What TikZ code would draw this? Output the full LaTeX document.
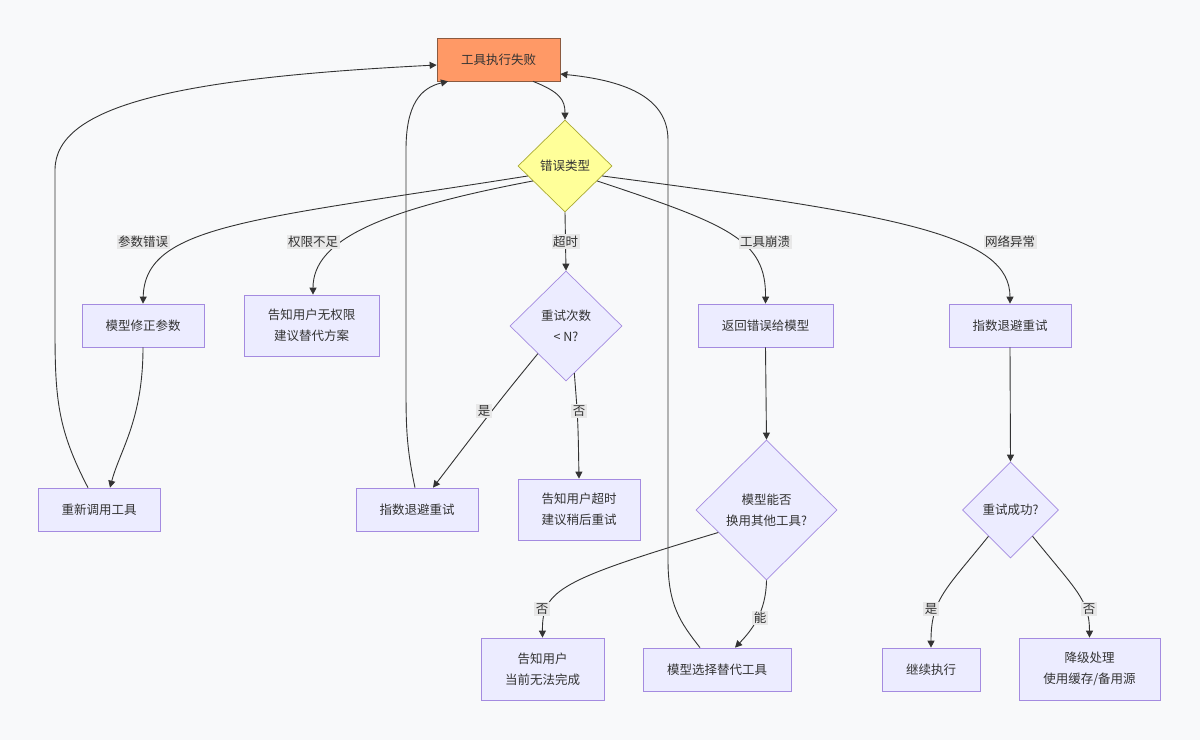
\documentclass[tikz,border=0pt]{standalone}
\usepackage{fontspec}
\setmainfont{Noto Sans CJK SC}
\usetikzlibrary{shapes.geometric,arrows.meta}
\definecolor{nodefill}{HTML}{ECECFF}
\definecolor{nodeline}{HTML}{A48BE0}
\definecolor{inkgray}{HTML}{333333}
\definecolor{bgcol}{HTML}{F8F9FA}
\definecolor{failfill}{HTML}{FF9966}
\definecolor{faildraw}{HTML}{8A5A40}
\definecolor{typefill}{HTML}{FFFF99}
\definecolor{typedraw}{HTML}{AAAA33}
\definecolor{labelfill}{HTML}{E8E8E8}

\begin{document}
\begin{tikzpicture}[x=1pt,y=-1pt,
    font=\fontsize{12.5}{21}\selectfont, text=inkgray,
    box/.style={rectangle, draw=nodeline, fill=nodefill, line width=0.7pt, minimum height=43pt, align=center, inner sep=0pt},
    decision/.style={diamond, draw=nodeline, fill=nodefill, line width=0.7pt, align=center, inner sep=1pt},
    elabel/.style={fill=labelfill, inner sep=1.5pt},
    arr/.style={draw=inkgray, line width=0.9pt, -{Triangle[length=7pt,width=7pt]}}]
      \fill[bgcol] (0,0) rectangle (1200,740);

      \node[box, fill=failfill, draw=faildraw, minimum width=123pt] (fail) at (498.5,59.5) {工具执行失败};
      \node[decision, fill=typefill, draw=typedraw, minimum width=94pt, minimum height=92pt] (type) at (565,166) {错误类型};
      \node[box, minimum width=122pt] (param) at (143,325.5) {模型修正参数};
      \node[box, minimum width=135pt, minimum height=61pt] (perm) at (311.5,325.5) {告知用户无权限\\建议替代方案};
      \node[decision, minimum width=112pt, minimum height=110pt] (retry) at (566,326) {重试次数\\< N?};
      \node[box, minimum width=135pt] (crash) at (765.5,325.5) {返回错误给模型};
      \node[box, minimum width=122pt] (netretry) at (1010,325.5) {指数退避重试};
      \node[box, minimum width=122pt] (recall) at (99,509.5) {重新调用工具};
      \node[box, minimum width=122pt] (backoff) at (417,509.5) {指数退避重试};
      \node[box, minimum width=122pt, minimum height=61pt] (tmsg) at (579,509.5) {告知用户超时\\建议稍后重试};
      \node[decision, minimum width=141pt, minimum height=140pt] (swap) at (766.5,510) {模型能否\\换用其他工具?};
      \node[decision, minimum width=96pt, minimum height=96pt] (ok) at (1010.5,510) {重试成功?};
      \node[box, minimum width=123pt, minimum height=62pt] (nouser) at (542.5,669) {告知用户\\当前无法完成};
      \node[box, minimum width=148pt] (choose) at (717,669.5) {模型选择替代工具};
      \node[box, minimum width=98pt] (cont) at (931,669.5) {继续执行};
      \node[box, minimum width=141pt, minimum height=62pt] (degrade) at (1089.5,669) {降级处理\\使用缓存/备用源};

      \draw[arr] ([xshift=34.5pt]fail.south) .. controls (560,92) and (565,100) .. (type.north);
      \draw[arr] (type.195) .. controls (250,220) and (145,225) .. (param.north);
      \draw[arr] (type.205) .. controls (380,210) and (313,240) .. ([xshift=1.5pt]perm.north);
      \draw[arr] (type.south) -- (retry.north) node[elabel, midway] (ltimeout) {超时};
      \draw[arr] (type.-25) .. controls (730,225) and (766,240) .. (crash.north);
      \draw[arr] (type.-15) .. controls (900,215) and (1010,235) .. (netretry.north);
      \draw[arr] (param.south) .. controls (143,420) and (120,450) .. ([xshift=11pt]recall.north);
      \draw[arr] ([xshift=-11pt]recall.north) .. controls (58,430) and (55,400) .. (55,330) -- (55,170)
          .. controls (55,105) and (180,78) .. ([yshift=-5.5pt]fail.west);
      \draw[arr] (retry.south west) .. controls (500,400) .. ([xshift=16pt]backoff.north);
      \draw[arr] (retry.-80) .. controls (578,420) .. (tmsg.north);
      \draw[arr] ([xshift=-2pt]backoff.north) .. controls (407,450) and (406,430) .. (406,390) -- (406,150)
          .. controls (406,105) and (420,88) .. ([xshift=-50.5pt]fail.south);
      \draw[arr] (crash.south) -- (swap.north);
      \draw[arr] (swap.205) .. controls (560,580) and (542,590) .. (nouser.north);
      \draw[arr] (swap.south) .. controls (766,612) and (752,630) .. ([xshift=18pt]choose.north);
      \draw[arr] ([xshift=-17pt]choose.north) .. controls (680,622) and (668,605) .. (668,560) -- (668,140)
          .. controls (668,95) and (620,80) .. ([yshift=-14.5pt]fail.east);
      \draw[arr] (netretry.south) -- (ok.north);
      \draw[arr] (ok.230) .. controls (945,590) and (931,600) .. (cont.north);
      \draw[arr] (ok.-50) .. controls (1076,590) and (1089.5,600) .. (degrade.north);

      \node[elabel] (lparam) at (143,242) {参数错误};
      \node[elabel] (lperm) at (313,242) {权限不足};
      \node[elabel] (lcrash) at (765,242) {工具崩溃};
      \node[elabel] (lnet) at (1010,242) {网络异常};
      \node[elabel] (lyes) at (484,411) {是};
      \node[elabel] (lno) at (579,411) {否};
      \node[elabel] (lnoswap) at (542,609) {否};
      \node[elabel] (lcan) at (760,618) {能};
      \node[elabel] (lokyes) at (931,609) {是};
      \node[elabel] (lokno) at (1089,609) {否};
    \end{tikzpicture}
\end{document}
